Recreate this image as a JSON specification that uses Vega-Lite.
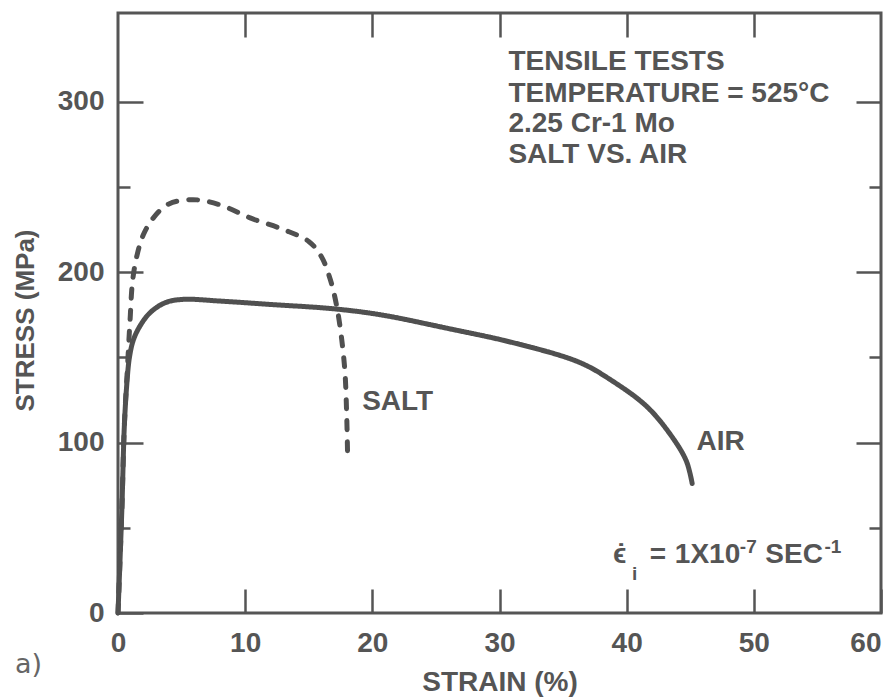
{
  "$schema": "https://vega.github.io/schema/vega-lite/v6.json",
  "width": 763,
  "height": 600,
  "autosize": "none",
  "padding": {"left": 118, "top": 13, "right": 4, "bottom": 87},
  "background": "white",
  "config": {"view": {"stroke": "#555", "strokeWidth": 3}, "font": "Liberation Sans"},
  "datasets": {
    "curves": [
      {"series": "AIR", "strain": 0, "stress": 0},
      {"series": "AIR", "strain": 0.3, "stress": 60},
      {"series": "AIR", "strain": 0.5, "stress": 110},
      {"series": "AIR", "strain": 0.7, "stress": 135},
      {"series": "AIR", "strain": 0.9, "stress": 150},
      {"series": "AIR", "strain": 1.2, "stress": 160},
      {"series": "AIR", "strain": 1.7, "stress": 168},
      {"series": "AIR", "strain": 2.5, "stress": 176},
      {"series": "AIR", "strain": 3.7, "stress": 182},
      {"series": "AIR", "strain": 5.1, "stress": 184},
      {"series": "AIR", "strain": 8, "stress": 183},
      {"series": "AIR", "strain": 12, "stress": 181},
      {"series": "AIR", "strain": 16.9, "stress": 178.5},
      {"series": "AIR", "strain": 20.6, "stress": 175},
      {"series": "AIR", "strain": 25.9, "stress": 167},
      {"series": "AIR", "strain": 31.1, "stress": 158.5},
      {"series": "AIR", "strain": 36.3, "stress": 147},
      {"series": "AIR", "strain": 38.9, "stress": 136},
      {"series": "AIR", "strain": 41.6, "stress": 121},
      {"series": "AIR", "strain": 43.6, "stress": 103},
      {"series": "AIR", "strain": 44.7, "stress": 89},
      {"series": "AIR", "strain": 45.15, "stress": 76},
      {"series": "SALT", "strain": 0, "stress": 0},
      {"series": "SALT", "strain": 0.3, "stress": 60},
      {"series": "SALT", "strain": 0.5, "stress": 110},
      {"series": "SALT", "strain": 0.75, "stress": 145},
      {"series": "SALT", "strain": 0.95, "stress": 172},
      {"series": "SALT", "strain": 1.15, "stress": 195},
      {"series": "SALT", "strain": 1.5, "stress": 210},
      {"series": "SALT", "strain": 2.0, "stress": 222},
      {"series": "SALT", "strain": 2.8, "stress": 232},
      {"series": "SALT", "strain": 4.0, "stress": 240},
      {"series": "SALT", "strain": 5.9, "stress": 242.5},
      {"series": "SALT", "strain": 8.0, "stress": 239.5},
      {"series": "SALT", "strain": 10.5, "stress": 231.5},
      {"series": "SALT", "strain": 13.0, "stress": 225},
      {"series": "SALT", "strain": 15.0, "stress": 218},
      {"series": "SALT", "strain": 16.0, "stress": 209},
      {"series": "SALT", "strain": 16.7, "stress": 195.5},
      {"series": "SALT", "strain": 17.2, "stress": 180},
      {"series": "SALT", "strain": 17.6, "stress": 160},
      {"series": "SALT", "strain": 17.85, "stress": 141},
      {"series": "SALT", "strain": 17.98, "stress": 117},
      {"series": "SALT", "strain": 18.05, "stress": 94.5}
    ],
    "labels": [
      {"x": 30.7, "y": 318.8, "text": "TENSILE TESTS"},
      {"x": 30.7, "y": 300, "text": "TEMPERATURE = 525°C"},
      {"x": 30.7, "y": 282.4, "text": "2.25 Cr-1 Mo"},
      {"x": 30.7, "y": 264.2, "text": "SALT VS. AIR"},
      {"x": 19.2, "y": 119.2, "text": "SALT"},
      {"x": 45.5, "y": 95.7, "text": "AIR"},
      {"x": 38.92, "y": 29.4, "text": "ϵ"},
      {"x": 39.2, "y": 29.4, "text": "˙"},
      {"x": 41.82, "y": 29.4, "text": "="},
      {"x": 43.79, "y": 29.4, "text": "1X10"},
      {"x": 50.9, "y": 29.4, "text": "SEC"}
    ],
    "small": [
      {"x": 40.41, "y": 19.4, "text": "i"},
      {"x": 48.9, "y": 35.2, "text": "-7"},
      {"x": 55.55, "y": 35.2, "text": "-1"}
    ],
    "panel": [
      {"x": -8.1, "y": -35.2, "text": "a)"}
    ]
  },
  "layer": [
    {
      "data": {"name": "curves"},
      "mark": {"type": "line", "interpolate": "catmull-rom", "strokeWidth": 5, "color": "#505050", "strokeCap": "round"},
      "encoding": {
        "x": {
          "field": "strain", "type": "quantitative",
          "scale": {"domain": [0, 60], "nice": false, "zero": false},
          "axis": {
            "orient": "bottom", "values": [0, 10, 20, 30, 40, 50, 60],
            "tickSize": -24, "tickWidth": 2.5, "tickColor": "#555",
            "domain": false, "grid": false,
            "labelFontSize": 28, "labelFontWeight": "bold", "labelColor": "#555", "labelPadding": 40,
            "labelFlush": false, "labelOverlap": false, "labelBaseline": "top",
            "labelAlign": {"condition": {"test": "datum.value == 60", "value": "right"}, "value": "center"},
            "title": "STRAIN (%)", "titleFontSize": 28, "titleColor": "#555", "titleFontWeight": "bold",
            "titleY": 77, "titleBaseline": "alphabetic"
          }
        },
        "y": {
          "field": "stress", "type": "quantitative",
          "scale": {"domain": [0, 352], "nice": false, "zero": false},
          "axis": {
            "orient": "left", "values": [0, 50, 100, 150, 200, 250, 300],
            "tickSize": {"condition": {"test": "datum.value % 100 === 0", "value": -25}, "value": -12},
            "tickWidth": 2.5, "tickColor": "#555",
            "domain": false, "grid": false,
            "labelExpr": "datum.value % 100 === 0 ? datum.label : ''",
            "labelFontSize": 28, "labelFontWeight": "bold", "labelColor": "#555", "labelPadding": 39,
            "labelFlush": false, "labelOverlap": false, "labelBaseline": "middle",
            "title": "STRESS (MPa)", "titleFontSize": 26, "titleColor": "#555", "titleFontWeight": "bold",
            "titleAngle": -90, "titleX": -93, "titleY": 307, "titleAlign": "center", "titleBaseline": "middle"
          }
        },
        "strokeDash": {
          "field": "series", "type": "nominal",
          "scale": {"domain": ["AIR", "SALT"], "range": [[1, 0], [9, 12]]},
          "legend": null
        }
      }
    },
    {
      "data": {"name": "labels"},
      "mark": {"type": "text", "align": "left", "baseline": "alphabetic", "fontSize": 28, "fontWeight": "bold", "color": "#555", "font": "Liberation Sans"},
      "encoding": {
        "x": {
          "field": "x", "type": "quantitative",
          "scale": {"domain": [0, 60], "nice": false, "zero": false},
          "axis": {
            "orient": "top", "values": [10, 20, 30, 40, 50],
            "tickSize": -24, "tickWidth": 2.5, "tickColor": "#555",
            "domain": false, "grid": false, "labels": false, "title": null
          }
        },
        "y": {
          "field": "y", "type": "quantitative",
          "scale": {"domain": [0, 352], "nice": false, "zero": false},
          "axis": {
            "orient": "right", "values": [50, 100, 150, 200, 250, 300],
            "tickSize": {"condition": {"test": "datum.value % 100 === 0", "value": -25}, "value": -12},
            "tickWidth": 2.5, "tickColor": "#555",
            "domain": false, "grid": false, "labels": false, "title": null
          }
        },
        "text": {"field": "text", "type": "nominal"}
      }
    },
    {
      "data": {"name": "small"},
      "mark": {"type": "text", "align": "left", "baseline": "alphabetic", "fontSize": 19, "fontWeight": "bold", "color": "#555", "font": "Liberation Sans"},
      "encoding": {
        "x": {"field": "x", "type": "quantitative", "scale": {"domain": [0, 60], "nice": false, "zero": false}, "axis": null},
        "y": {"field": "y", "type": "quantitative", "scale": {"domain": [0, 352], "nice": false, "zero": false}, "axis": null},
        "text": {"field": "text", "type": "nominal"}
      }
    },
    {
      "data": {"name": "panel"},
      "mark": {"type": "text", "align": "left", "baseline": "alphabetic", "fontSize": 27, "color": "#666", "font": "DejaVu Sans"},
      "encoding": {
        "x": {"field": "x", "type": "quantitative", "scale": {"domain": [0, 60], "nice": false, "zero": false}, "axis": null},
        "y": {"field": "y", "type": "quantitative", "scale": {"domain": [0, 352], "nice": false, "zero": false}, "axis": null},
        "text": {"field": "text", "type": "nominal"}
      }
    }
  ],
  "resolve": {"axis": {"x": "independent", "y": "independent"}}
}
